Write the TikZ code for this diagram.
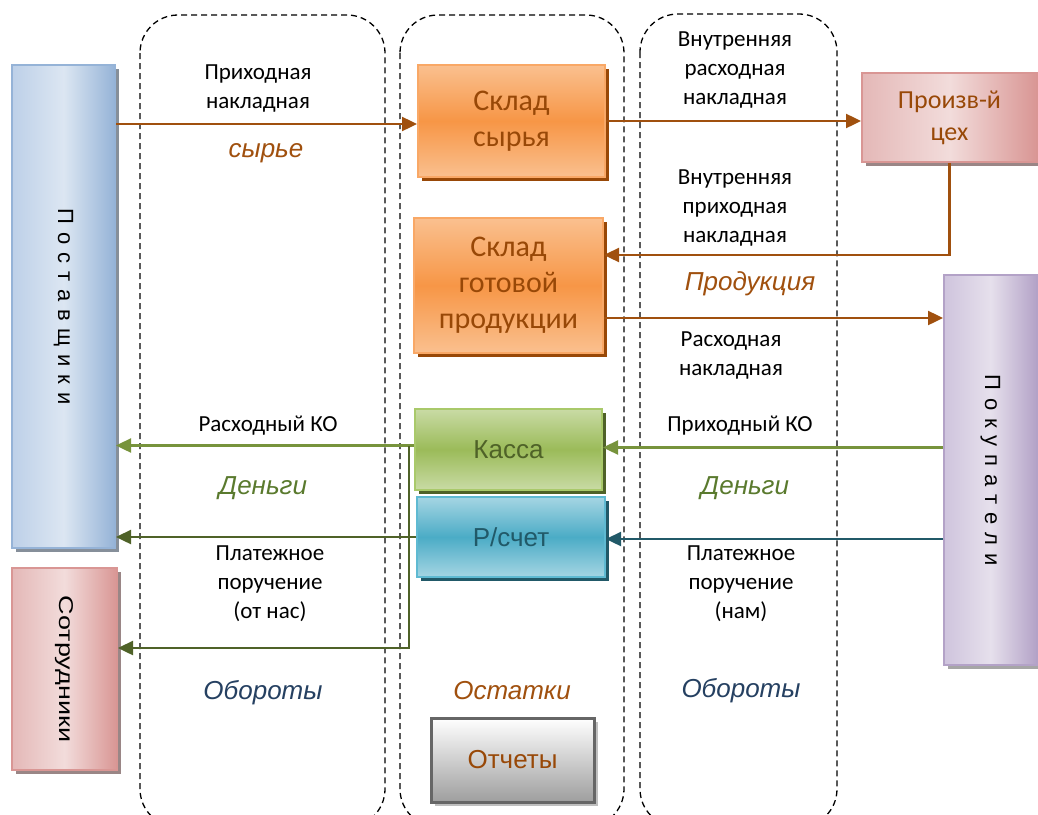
\documentclass[tikz,border=0pt]{standalone}
\usepackage{fontspec}
\setmainfont{Carlito}
\newfontfamily\arial{Liberation Sans}
\newfontfamily\arialsp[LetterSpace=8]{Liberation Sans}
\usetikzlibrary{arrows.meta,shadows,calc}
\definecolor{brownA}{HTML}{A0500E}
\definecolor{brownT}{HTML}{984807}
\definecolor{oliveA}{HTML}{77933C}
\definecolor{oliveD}{HTML}{4F6228}
\definecolor{oliveT}{HTML}{5A7A2E}
\definecolor{tealA}{HTML}{215968}
\definecolor{navyT}{HTML}{254061}
\definecolor{orL}{HTML}{FAC08F}
\definecolor{orM}{HTML}{F79646}
\definecolor{orB}{HTML}{F9A866}
\definecolor{grL}{HTML}{C9DBA5}
\definecolor{grM}{HTML}{9BBB59}
\definecolor{grB}{HTML}{A9C96A}
\definecolor{blL}{HTML}{A5D5E3}
\definecolor{blM}{HTML}{4BACC6}
\definecolor{blB}{HTML}{5FBAD2}
\definecolor{psL}{HTML}{BDD0E8}
\definecolor{psM}{HTML}{DCE6F2}
\definecolor{psR}{HTML}{95B3D7}
\definecolor{pkL}{HTML}{E4B8B7}
\definecolor{pkM}{HTML}{F2DCDB}
\definecolor{pkR}{HTML}{D99694}
\definecolor{puL}{HTML}{CFC4DD}
\definecolor{puM}{HTML}{E6E0EC}
\definecolor{puR}{HTML}{B3A2C7}
\tikzset{
  colbox/.style={draw=black, line width=1.3pt, dash pattern=on 6pt off 4pt, rounded corners=38pt},
  box/.style={draw, line width=2pt, inner sep=0pt, align=center},
  shad/.style={drop shadow={shadow xshift=4pt, shadow yshift=-4pt, fill=#1, opacity=1}},
  vgrad/.style 2 args={top color=#1, bottom color=#1, middle color=#2},
  hgrad/.style n args={3}{left color=#1, right color=#3, middle color=#2},
  lbl/.style={font=\fontsize{23}{29}\selectfont, align=center, text=black},
  itl/.style={font=\arial\itshape\fontsize{26}{30}\selectfont},
  tip/.style={-{Triangle[length=15pt,width=14pt,fill=#1]}},
  arr/.style={line width=2.4pt},
  vtext/.style={rotate=-90, font=\arialsp\fontsize{22}{24}\selectfont},
}
\begin{document}
\begin{tikzpicture}[x=1pt,y=-1pt]
\useasboundingbox (0,0) rectangle (1038,814);
% dashed columns
\draw[colbox] (140,15) rectangle (385,827);
\draw[colbox] (400,15) rectangle (624,827);
\draw[colbox] (640,14) rectangle (837,827);

% boxes
\node[box, draw=psR, hgrad={psL}{psM}{psR}, shad=gray!70!psR,
      minimum width=103pt, minimum height=483pt] (post) at (63.5,306.5) {};
\node[vtext] (postt) at (post.center) {П о с т а в щ и к и};

\node[box, draw=pkR, hgrad={pkL}{pkM}{pkR}, shad=gray!70!pkR,
      minimum width=105pt, minimum height=202pt] (sotr) at (64.5,669) {};
\node[rotate=-90] (sotrt) at (sotr.center) {\scalebox{1.35}[1]{\arial\fontsize{20}{22}\selectfont Сотрудники}};

\node[box, draw=orB, vgrad={orL}{orM}, shad=brownT,
      minimum width=187pt, minimum height=112pt, text=brownT, font=\fontsize{30}{36}\selectfont]
      (sk1) at (511.5,121) {Склад\\сырья};
\node[box, draw=orB, vgrad={orL}{orM}, shad=brownT,
      minimum width=189pt, minimum height=135pt, text=brownT, font=\fontsize{30}{36}\selectfont]
      (sk2) at (508.5,285.5) {Склад\\готовой\\продукции};
\node[box, draw=grB, vgrad={grL}{grM}, shad=oliveD,
      minimum width=187pt, minimum height=81pt, text=oliveD, font=\arial\fontsize{26}{30}\selectfont]
      (kassa) at (508.5,449.5) {Касса};
\node[box, draw=blB, vgrad={blL}{blM}, shad=tealA,
      minimum width=188pt, minimum height=80pt, text=tealA, font=\arial\fontsize{26}{30}\selectfont]
      (rs) at (511,537) {Р/счет};
\node[box, draw=black!60, line width=3pt, top color=white, bottom color=black!38, shad=black!25,
      minimum width=163pt, minimum height=84pt, text=brownT, font=\arial\fontsize{26}{30}\selectfont]
      (otch) at (512.5,760) {Отчеты};
\node[box, draw=pkR, hgrad={pkL}{pkM}{pkR}, shad=gray!70!pkR,
      minimum width=175pt, minimum height=89pt, text=brownT, font=\fontsize{26}{32}\selectfont]
      (cex) at (949.5,117.5) {Произв-й\\цех};
\node[box, draw=puR, hgrad={puL}{puM}{puR}, shad=black!35,
      minimum width=93pt, minimum height=390pt] (pok) at (990.5,470) {};
\node[vtext] (pokt) at (pok.center) {П о к у п а т е л и};

% connectors
\draw[arr, brownA, tip=brownA] ([yshift=-3pt]sk1.west -| post.east) -- ([yshift=-3pt]sk1.west);
\draw[arr, brownA, tip=brownA] (sk1.east) -- (sk1.east -| cex.west);
\draw[arr, brownA, tip=brownA] (cex.south) |- ([yshift=30.5pt]sk2.east);
\draw[arr, brownA, tip=brownA] ([yshift=-32.5pt]sk2.east) -- ([yshift=-32.5pt]sk2.east -| pok.west);
\draw[arr, oliveA, tip=oliveA] ([yshift=2pt]kassa.east -| pok.west) -- ([yshift=2pt]kassa.east);
\coordinate (jk) at ($(kassa.west)+(-5,-4)$);
\draw[arr, oliveA, tip=oliveA] ([yshift=4pt]kassa.west) -- ([yshift=4pt]kassa.west -| post.east);
\draw[arr, oliveD, tip=oliveD] (jk) |- ([yshift=21pt]sotr.east);
\draw[arr, oliveD, tip=oliveD] (rs.west) -- (rs.west -| post.east);
\draw[arr, tealA, tip=tealA] ([yshift=-2pt]rs.east -| pok.west) -- ([yshift=-2pt]rs.east);

% labels
\node[lbl] (l1) at (258,89) {Приходная\\накладная};
\node[itl, text=brownA] (l2) at (266,153) {сырье};
\node[lbl] (l3) at (735,70) {Внутренняя\\расходная\\накладная};
\node[lbl] (l4) at (735,208.5) {Внутренняя\\приходная\\накладная};
\node[itl, text=brownA] (l5) at (750,284) {Продукция};
\node[lbl] (l6) at (731,356) {Расходная\\накладная};
\node[lbl] (l7) at (268,426) {Расходный КО};
\node[lbl] (l8) at (740,426) {Приходный КО};
\node[itl, text=oliveT] (l9) at (263,488) {Деньги};
\node[itl, text=oliveT] (l10) at (745,488) {Деньги};
\node[lbl] (l11) at (270,584) {Платежное\\поручение\\(от нас)};
\node[lbl] (l12) at (741,584) {Платежное\\поручение\\(нам)};
\node[itl, text=navyT] (l13) at (263,693) {Обороты};
\node[itl, text=brownA] (l14) at (512,691) {Остатки};
\node[itl, text=navyT] (l15) at (741,691) {Обороты};
\end{tikzpicture}
\end{document}
